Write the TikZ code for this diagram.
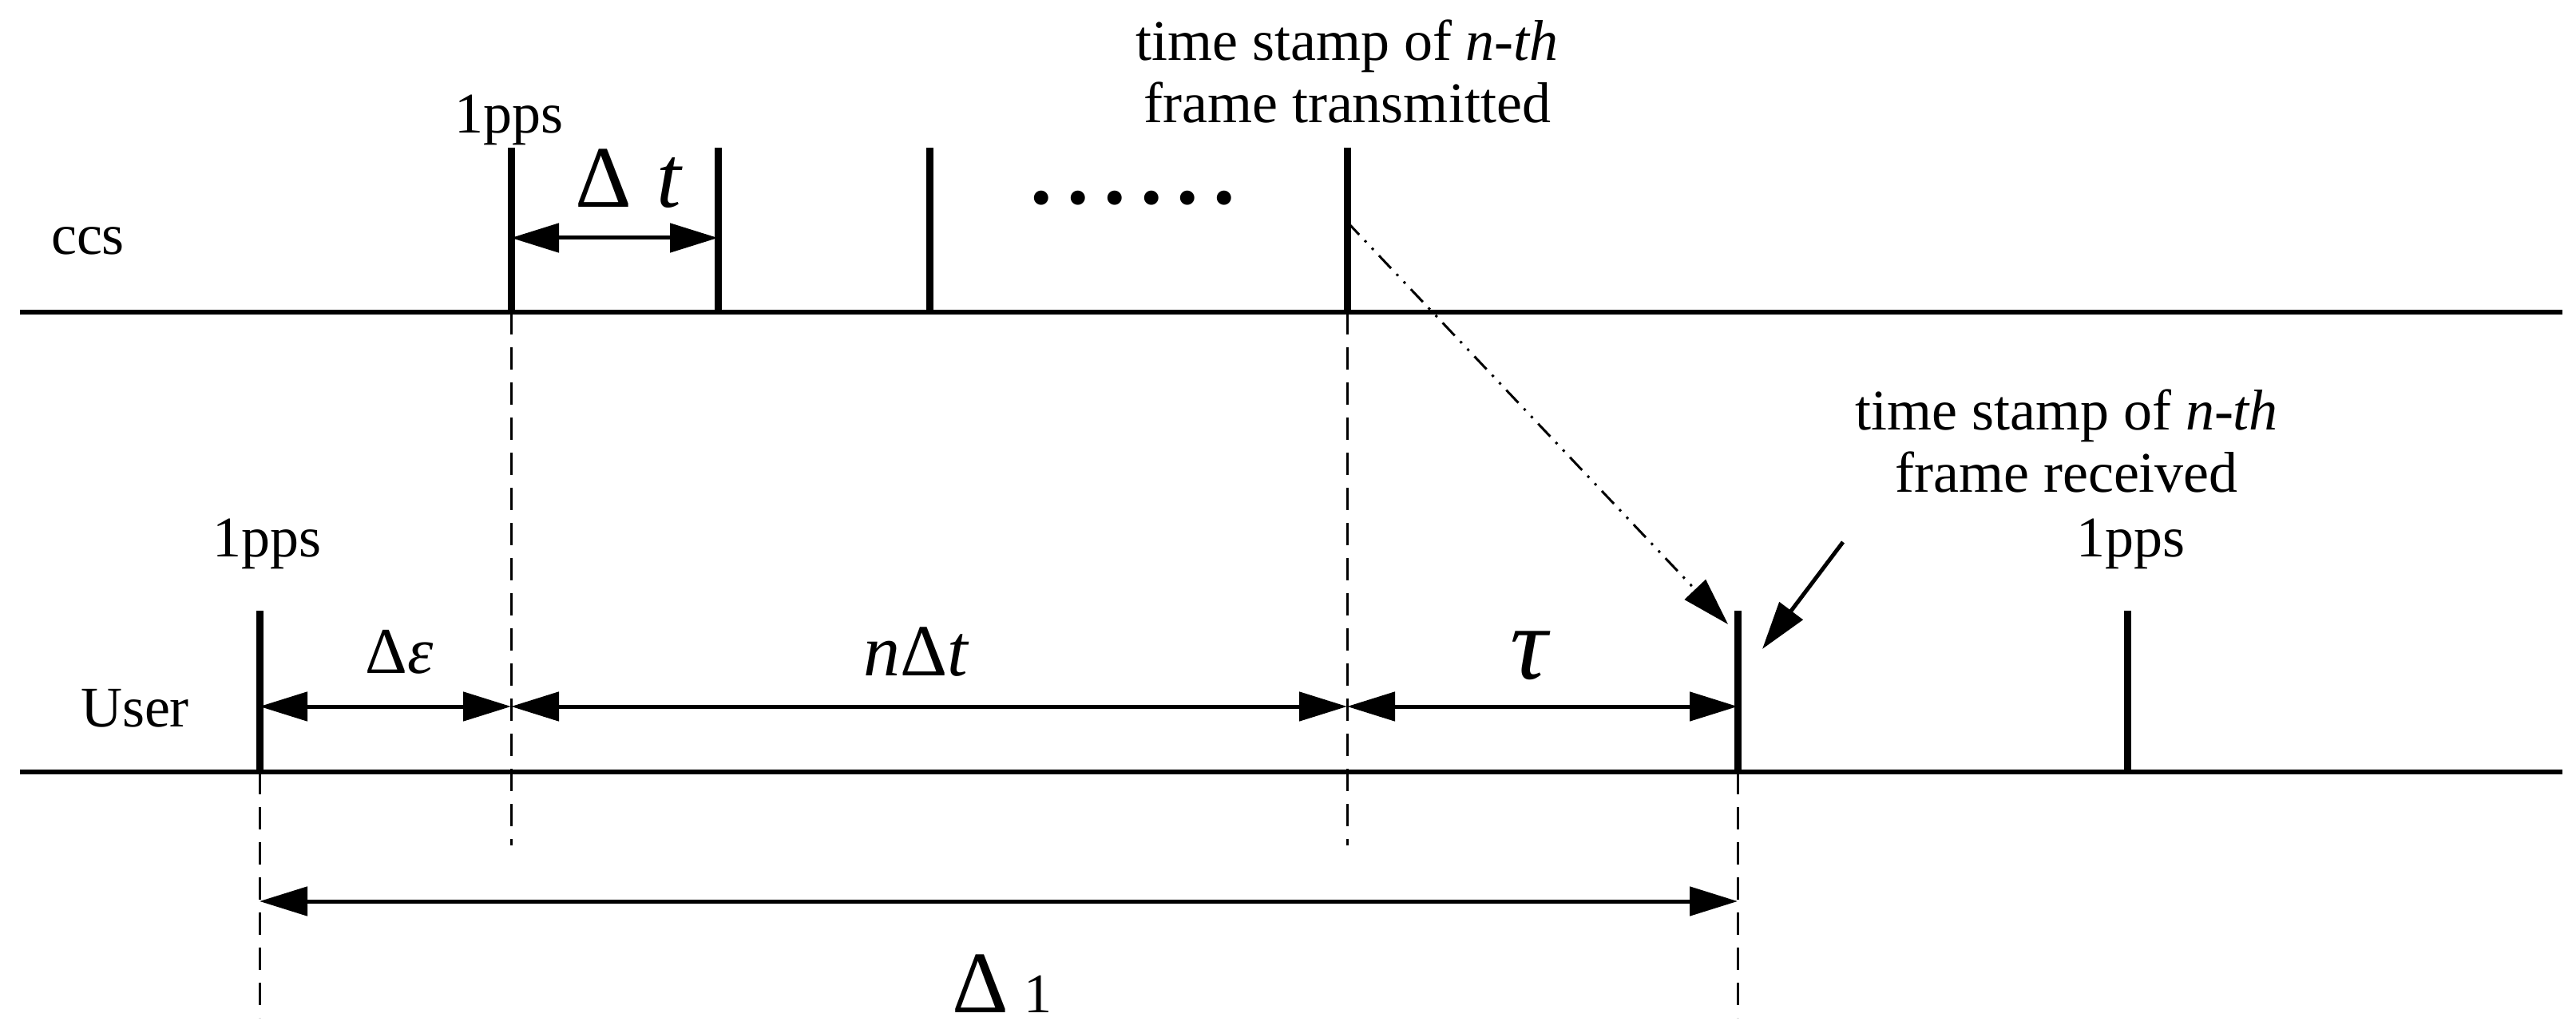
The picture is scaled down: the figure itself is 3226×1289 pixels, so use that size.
\documentclass[tikz,border=0pt]{standalone}
\usepackage{fontspec}
\setmainfont{Liberation Serif}
\usetikzlibrary{arrows.meta}
\begin{document}
\begin{tikzpicture}[x=1pt,y=-1pt,
  axis/.style={line width=6pt},
  tick/.style={line width=9pt},
  dim/.style={line width=5pt,{Triangle[length=60pt,width=36pt]}-{Triangle[length=60pt,width=36pt]}},
  guide/.style={line width=3pt,dash pattern=on 28pt off 16pt},
  lbl/.style={font=\fontsize{72}{78}\selectfont,inner sep=0pt,align=center},
  big/.style={font=\fontsize{110}{120}\selectfont,inner sep=0pt}]
\useasboundingbox (0,0) rectangle (3226,1289);
% axes
\draw[axis] (25,391) -- (3209,391);
\draw[axis] (25,967) -- (3209,967);
% ccs ticks
\coordinate (c1b) at (640,391); \coordinate (c1t) at (640,185);
\coordinate (c2b) at (899,391); \coordinate (c2t) at (899,185);
\coordinate (c3b) at (1164,391); \coordinate (c3t) at (1164,185);
\coordinate (c4b) at (1687,391); \coordinate (c4t) at (1687,185);
\foreach \i in {1,...,4} \draw[tick] (c\i b) -- (c\i t);
% user ticks
\coordinate (u1b) at (325,967); \coordinate (u1t) at (325,765);
\coordinate (u2b) at (2176,967); \coordinate (u2t) at (2176,765);
\coordinate (u3b) at (2664,967); \coordinate (u3t) at (2664,765);
\foreach \i in {1,...,3} \draw[tick] (u\i b) -- (u\i t);
% guides
\coordinate (g1) at (640,1059); \coordinate (g2) at (1687,1059);
\coordinate (g3) at (325,1275); \coordinate (g4) at (2176,1275);
\draw[guide] (c1b) -- (g1);
\draw[guide] (c4b) -- (g2);
\draw[guide] (u1b) -- (g3);
\draw[guide] (u2b) -- (g4);
% dimension arrows
\coordinate (dA) at (640,298); \coordinate (dB) at (899,298);
\draw[dim] (dA) -- (dB);
\coordinate (e1) at (325,885); \coordinate (e2) at (640,885);
\coordinate (e3) at (1687,885); \coordinate (e4) at (2176,885);
\draw[dim] (e1) -- (e2);
\draw[dim] (e2) -- (e3);
\draw[dim] (e3) -- (e4);
\coordinate (f1) at (325,1129); \coordinate (f2) at (2176,1129);
\draw[dim] (f1) -- (f2);
% labels
\node[lbl] (ccs) at (110,302) {ccs};
\node[lbl] (user) at (169,887) {User};
\node[lbl] (p1) at (638,150) {1pps};
\node[lbl] (p2) at (335,681) {1pps};
\node[lbl] (p3) at (2668,681) {1pps};
\node[big] (dt) at (788,224) {Δ\;\textit{t}};
\node[big] (dots) at (1419,248) {\textbf{.\,.\,.\,.\,.\,.}};
\node[lbl] (tx) at (1687,90) {time stamp of \textit{n-th}\\frame transmitted};
\node[lbl] (rx) at (2588,553) {time stamp of \textit{n-th}\\frame received};
\node[big,font=\fontsize{82}{90}\selectfont] (de) at (500,817) {Δ\textit{ε}};
\node[big,font=\fontsize{92}{100}\selectfont] (ndt) at (1148,817) {\textit{n}Δ\textit{t}};
\node[big,font=\fontsize{130}{140}\selectfont] (tau) at (1917,821) {\textit{τ}};
\node[big] (d1) at (1255,1232) {Δ\,\fontsize{70}{76}\selectfont 1};
% arrows
\coordinate (s1) at (1687,278); \coordinate (s2) at (2164,782);
\draw[line width=3pt,dash pattern=on 22pt off 10pt on 3pt off 10pt on 3pt off 10pt,-{Triangle[length=60pt,width=36pt]}] (s1) -- (s2);
\coordinate (r1) at (2308,679); \coordinate (r2) at (2207,813);
\draw[line width=5pt,-{Triangle[length=60pt,width=36pt]}] (r1) -- (r2);
\end{tikzpicture}
\end{document}
